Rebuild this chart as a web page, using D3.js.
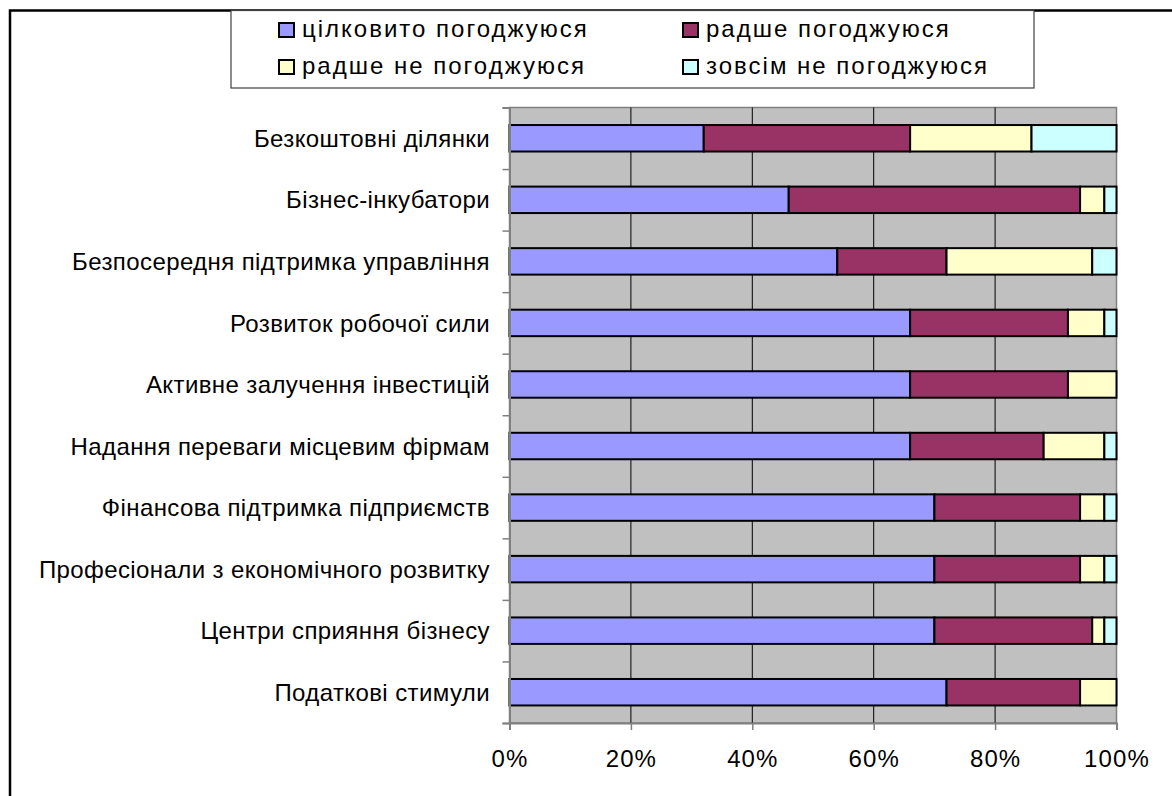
<!DOCTYPE html>
<html>
<head>
<meta charset="utf-8">
<script src="https://cdn.jsdelivr.net/npm/d3@7"></script>
<style>
  html, body { margin: 0; padding: 0; background: #fff; }
  svg { display: block; }
  text { font-family: "Liberation Sans", Arial, sans-serif; fill: #000; }
</style>
</head>
<body>
<svg id="chart" width="1172" height="796"></svg>
<script>
const categories = [
  "Безкоштовні ділянки",
  "Бізнес-інкубатори",
  "Безпосередня підтримка управління",
  "Розвиток робочої сили",
  "Активне залучення інвестицій",
  "Надання переваги місцевим фірмам",
  "Фінансова підтримка підприємств",
  "Професіонали з економічного розвитку",
  "Центри сприяння бізнесу",
  "Податкові стимули"
];
const seriesNames = ["цілковито погоджуюся", "радше погоджуюся", "радше не погоджуюся", "зовсім не погоджуюся"];
const fullyAgree     = [32, 46, 54, 66, 66, 66, 70, 70, 70, 72];
const ratherAgree    = [34, 48, 18, 26, 26, 22, 24, 24, 26, 22];
const ratherDisagree = [20,  4, 24,  6,  8, 10,  4,  4,  2,  6];
const fullyDisagree  = [14,  2,  4,  2,  0,  2,  2,  2,  2,  0];
const seriesColors = ["#9999FF", "#993366", "#FFFFCC", "#CCFFFF"];
const xTicks = [0, 20, 40, 60, 80, 100];

const svg = d3.select("#chart");
const plot = { left: 509.5, right: 1116.5, top: 107.5, bottom: 723 };

// outer chart border (left & top visible)
svg.append("path")
  .attr("d", `M10,797 L10,10.5 L1173,10.5`)
  .attr("fill", "none").attr("stroke", "#000").attr("stroke-width", 2.5);

const x = d3.scaleLinear().domain([0, 100]).range([plot.left, plot.right]);
const y = d3.scaleBand().domain(categories).range([plot.top, plot.bottom]).paddingInner(0.57).paddingOuter(0.285);
const yTickScale = d3.scaleLinear().domain([0, categories.length]).range([plot.top, plot.bottom]);

// plot area background
svg.append("rect")
  .attr("x", plot.left).attr("y", plot.top)
  .attr("width", plot.right - plot.left).attr("height", plot.bottom - plot.top)
  .attr("fill", "#C0C0C0").attr("stroke", "#808080").attr("stroke-width", 1.5);

// vertical gridlines
svg.append("g").selectAll("line").data(xTicks.filter(t => t > 0 && t < 100)).join("line")
  .attr("x1", d => x(d)).attr("x2", d => x(d))
  .attr("y1", plot.top).attr("y2", plot.bottom)
  .attr("stroke", "#000").attr("stroke-width", 1);

// stacked data
const rows = categories.map((c, i) => ({
  cat: c,
  s0: fullyAgree[i], s1: ratherAgree[i], s2: ratherDisagree[i], s3: fullyDisagree[i]
}));
const stack = d3.stack().keys(["s0", "s1", "s2", "s3"]);
const stacked = stack(rows);

svg.append("g").selectAll("g").data(stacked).join("g")
  .attr("fill", (d, i) => seriesColors[i])
  .selectAll("rect").data(d => d.filter(p => p[1] - p[0] > 0)).join("rect")
  .attr("x", d => x(d[0]))
  .attr("width", d => x(d[1]) - x(d[0]))
  .attr("y", d => y(d.data.cat))
  .attr("height", y.bandwidth())
  .attr("stroke", "#000").attr("stroke-width", 2);

// x axis
const xAxis = d3.axisBottom(x).tickValues(xTicks).tickFormat(d => d + "%").tickSize(7).tickPadding(20);
const gx = svg.append("g").attr("transform", `translate(0,${plot.bottom})`).call(xAxis);
gx.select(".domain").attr("stroke", "#808080").attr("stroke-width", 2);
gx.selectAll(".tick line").attr("stroke", "#808080").attr("stroke-width", 1.5);
gx.selectAll(".tick text")
  .attr("font-size", 24).attr("letter-spacing", "1.1px")
  .attr("font-family", "Liberation Sans, Arial, sans-serif").attr("fill", "#000");

// y axis (category boundaries as ticks)
const yAxis = d3.axisLeft(yTickScale).tickValues(d3.range(0, categories.length + 1)).tickSize(7).tickFormat("");
const gy = svg.append("g").attr("transform", `translate(${plot.left},0)`).call(yAxis);
gy.select(".domain").attr("stroke", "#808080").attr("stroke-width", 2);
gy.selectAll(".tick line").attr("stroke", "#808080").attr("stroke-width", 1.5);

// category labels
svg.append("g").selectAll("text").data(categories).join("text")
  .attr("x", 490)
  .attr("y", d => y(d) + y.bandwidth() / 2)
  .attr("dy", "0.36em")
  .attr("text-anchor", "end")
  .attr("font-size", 24)
  .attr("letter-spacing", "0.4px")
  .text(d => d);

// legend
const legend = svg.append("g");
legend.append("rect")
  .attr("x", 231).attr("y", 10.5).attr("width", 803).attr("height", 77.5)
  .attr("fill", "#fff").attr("stroke", "#404040").attr("stroke-width", 1.2);
const legPos = [[279, 23], [683, 23], [279, 60], [683, 60]];
seriesNames.forEach((name, i) => {
  legend.append("rect")
    .attr("x", legPos[i][0]).attr("y", legPos[i][1]).attr("width", 15).attr("height", 14)
    .attr("fill", seriesColors[i]).attr("stroke", "#000").attr("stroke-width", 2);
  legend.append("text")
    .attr("x", legPos[i][0] + 23).attr("y", legPos[i][1] + 14)
    .attr("font-size", 24)
    .attr("letter-spacing", "2px")
    .text(name);
});
</script>
</body>
</html>
